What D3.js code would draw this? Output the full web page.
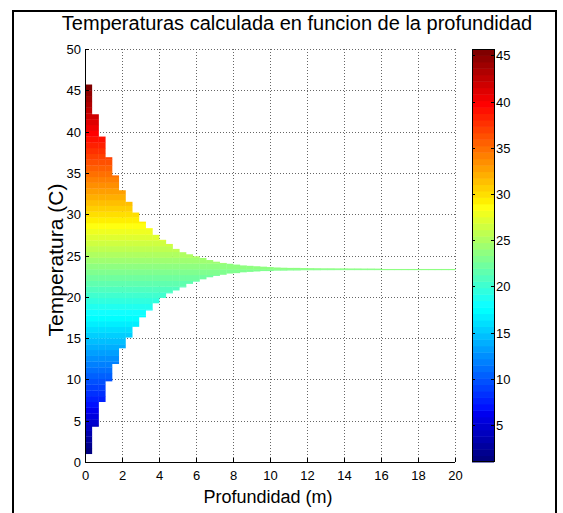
<!DOCTYPE html>
<html>
<head>
<meta charset="utf-8">
<script src="https://cdn.jsdelivr.net/npm/d3@7"></script>
<style>
  body { margin: 0; background: #fff; }
  svg text { font-family: "Liberation Sans Narrow", "Arial Narrow", "Liberation Sans", Arial, sans-serif; }
  .lbl { font-family: "Liberation Sans", Arial, sans-serif !important; }
</style>
</head>
<body>
<div id="i"></div>
<script>
// temperatura maxima / minima en cada columna de profundidad
let tempMax = [45.7, 42.1, 39.4, 36.9, 34.7, 32.9, 31.5, 30.2, 29.1, 28.3,
               27.5, 26.9, 26.4, 25.8, 25.4, 25.15, 24.9, 24.7, 24.45, 24.25,
               24.1, 24.0, 23.9, 23.8, 23.75, 23.7, 23.65, 23.6, 23.55, 23.52,
               23.5, 23.5, 23.48, 23.47, 23.46, 23.45, 23.45, 23.44, 23.44, 23.43,
               23.43, 23.42, 23.42, 23.41, 23.37, 23.37, 23.37, 23.37, 23.37, 23.37,
               23.37, 23.37, 23.37, 23.37, 23.37]
let tempMin = [1.0, 4.3, 7.3, 9.8, 11.9, 13.8, 15.1, 16.4, 17.55, 18.4,
               19.25, 19.9, 20.45, 20.8, 21.2, 21.6, 21.9, 22.15, 22.4, 22.6,
               22.7, 22.85, 22.9, 23.0, 23.05, 23.1, 23.15, 23.15, 23.2, 23.2,
               23.22, 23.22, 23.25, 23.25, 23.25, 23.26, 23.26, 23.27, 23.27, 23.27,
               23.28, 23.28, 23.28, 23.28, 23.3, 23.3, 23.3, 23.3, 23.3, 23.3,
               23.3, 23.3, 23.3, 23.3, 23.3]
let profMax = 20
let xTicks = [0, 2, 4, 6, 8, 10, 12, 14, 16, 18, 20]
let yTicks = [0, 5, 10, 15, 20, 25, 30, 35, 40, 45, 50]
let cbTicks = [5, 10, 15, 20, 25, 30, 35, 40, 45]

let W = 563, H = 513
let svg = d3.select("div#i").append("svg").attr("width", W).attr("height", H)

let x = d3.scaleLinear().domain([0, profMax]).range([85, 455])
let y = d3.scaleLinear().domain([0, 50]).range([462, 49])

// columnas de profundidad
let nCol = tempMax.length
let paso = profMax / nCol

// mapa de color jet (64 niveles, como matlab)
let jet = (j) => {  // j = 1..64
    let u = (k) => k < 1 || k > 47 ? 0 : (k <= 16 ? k / 16 : (k <= 31 ? 1 : (48 - k) / 16))
    return d3.rgb(255 * u(j - 24), 255 * u(j - 8), 255 * u(j + 7))
}
let cmin = d3.min(tempMin), cmax = d3.max(tempMax)
let nivel = (cmax - cmin) / 64

// marco de la figura
svg.append("rect").attr("x", 13).attr("y", 11).attr("width", 543).attr("height", 520)
   .attr("fill", "none").attr("stroke", "#000").attr("stroke-width", 2)

// rejilla
let grid = svg.append("g").attr("stroke", "#666").attr("stroke-dasharray", "1,2").attr("stroke-width", 1)
xTicks.forEach(t => {
    grid.append("line").attr("x1", Math.round(x(t)) + 0.5).attr("x2", Math.round(x(t)) + 0.5)
        .attr("y1", y(50)).attr("y2", y(0))
})
yTicks.forEach(t => {
    grid.append("line").attr("y1", Math.round(y(t)) + 0.5).attr("y2", Math.round(y(t)) + 0.5)
        .attr("x1", x(0)).attr("x2", x(profMax))
})

// celdas de temperatura
let cells = []
for (let i = 0; i < nCol; i++) {
    for (let k = 0; k < 64; k++) {
        let a = Math.max(tempMin[i], cmin + k * nivel),
            b = Math.min(tempMax[i], cmin + (k + 1) * nivel)
        if (b > a) cells.push({ d0: i * paso, d1: (i + 1) * paso, a: a, b: b, c: jet(k + 1) })
    }
}
svg.append("g").selectAll("rect").data(cells).join("rect")
    .attr("x", d => x(d.d0))
    .attr("width", d => x(d.d1) - x(d.d0) + 0.4)
    .attr("y", d => y(d.b))
    .attr("height", d => Math.max(y(d.a) - y(d.b) + 0.3, 1))
    .attr("fill", d => d.c)

// ejes
let axes = svg.append("g").attr("font-size", 13)
axes.append("line").attr("x1", x(0)).attr("x2", x(profMax)).attr("y1", 462.5).attr("y2", 462.5).attr("stroke", "#000")
axes.append("line").attr("x1", 85.5).attr("x2", 85.5).attr("y1", y(50)).attr("y2", 463).attr("stroke", "#000")
xTicks.forEach(t => {
    let px = Math.round(x(t)) + 0.5
    axes.append("line").attr("x1", px).attr("x2", px).attr("y1", 462).attr("y2", 458).attr("stroke", "#000")
    axes.append("text").attr("x", px).attr("y", 479.5).attr("text-anchor", "middle").text(t)
})
yTicks.forEach(t => {
    let py = Math.round(y(t)) + 0.5
    axes.append("line").attr("x1", 85).attr("x2", 89).attr("y1", py).attr("y2", py).attr("stroke", "#000")
    axes.append("text").attr("x", 81).attr("y", py + 4.5).attr("text-anchor", "end").text(t)
})

// barra de color
let cb = d3.scaleLinear().domain([cmin, cmax]).range([462, 49])
let cbg = svg.append("g")
cbg.selectAll("rect").data(d3.range(64)).join("rect")
    .attr("x", 472).attr("width", 22)
    .attr("y", k => cb(cmin + (k + 1) * nivel))
    .attr("height", k => cb(cmin + k * nivel) - cb(cmin + (k + 1) * nivel) + 0.5)
    .attr("fill", k => jet(k + 1))
cbg.append("rect").attr("x", 472.5).attr("y", 49.5).attr("width", 22).attr("height", 412)
    .attr("fill", "none").attr("stroke", "#000")
cbTicks.forEach(t => {
    let py = Math.round(cb(t)) + 0.5
    cbg.append("line").attr("x1", 472).attr("x2", 475).attr("y1", py).attr("y2", py).attr("stroke", "#000")
    cbg.append("line").attr("x1", 491).attr("x2", 494).attr("y1", py).attr("y2", py).attr("stroke", "#000")
    cbg.append("text").attr("x", 496).attr("y", py + 4.5).attr("font-size", 13).text(t)
})

// textos
svg.append("text").attr("class", "lbl").attr("x", 297).attr("y", 30).attr("text-anchor", "middle")
    .attr("font-size", 20).text("Temperaturas calculada en funcion de la profundidad")
svg.append("text").attr("class", "lbl").attr("x", 268).attr("y", 503).attr("text-anchor", "middle")
    .attr("font-size", 18).text("Profundidad (m)")
svg.append("text").attr("class", "lbl").attr("transform", "translate(63,260) rotate(-90)")
    .attr("text-anchor", "middle").attr("font-size", 21).text("Temperatura (C)")
</script>
</body>
</html>
